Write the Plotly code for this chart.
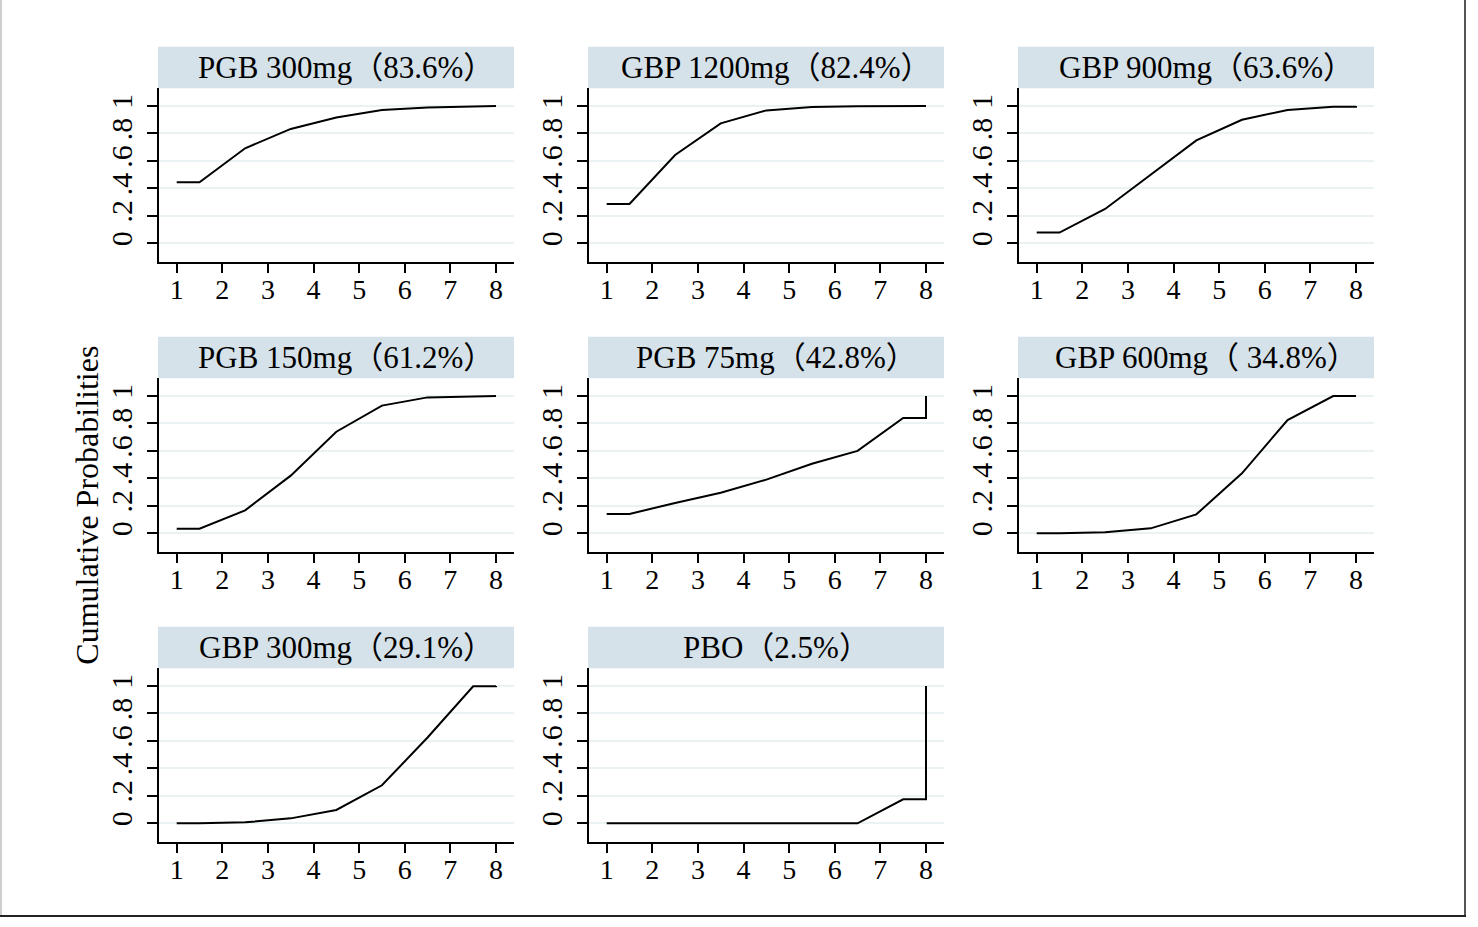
import plotly.graph_objects as go

# ---- data (cumulative ranking probabilities at ranks 1..8) ----
titles = [
    "PGB 300mg（83.6%）", "GBP 1200mg（82.4%）", "GBP 900mg（63.6%）",
    "PGB 150mg（61.2%）", "PGB 75mg（42.8%）", "GBP 600mg（ 34.8%）",
    "GBP 300mg（29.1%）", "PBO（2.5%）",
]
ranks = [1, 2, 3, 4, 5, 6, 7, 8]
cum_pgb300 = [0.444, 0.692, 0.833, 0.917, 0.971, 0.990, 0.998, 1.0]
cum_gbp1200 = [0.286, 0.643, 0.874, 0.968, 0.993, 0.998, 0.999, 1.0]
cum_gbp900 = [0.078, 0.250, 0.500, 0.750, 0.900, 0.971, 0.995, 1.0]
cum_pgb150 = [0.034, 0.167, 0.420, 0.740, 0.930, 0.990, 0.998, 1.0]
cum_pgb75 = [0.141, 0.221, 0.296, 0.391, 0.507, 0.600, 0.840, 1.0]
cum_gbp600 = [0.001, 0.007, 0.036, 0.138, 0.437, 0.825, 1.0, 1.0]
cum_gbp300 = [0.0, 0.007, 0.036, 0.097, 0.277, 0.625, 0.998, 1.0]
cum_pbo = [0.0, 0.0, 0.0, 0.0, 0.0, 0.0, 0.175, 1.0]
series = [cum_pgb300, cum_gbp1200, cum_gbp900, cum_pgb150,
          cum_pgb75, cum_gbp600, cum_gbp300, cum_pbo]
ytick_vals = [0, 0.2, 0.4, 0.6, 0.8, 1]
ytick_text = ["0", ".2", ".4", ".6", ".8", "1"]
ylab = "Cumulative Probabilities"

W, H = 1478, 927
FONT = "Liberation Serif, Times New Roman, Noto Sans CJK SC, serif"
col_left = [159, 589, 1019]
plot_w = 355
row_top = [88.3, 378.3, 668.3]
plot_h = 173.4
box_h = 41.6
STRIP = "#d6e2e9"
GRID = "#eaf2f3"

fig = go.Figure()
layout = dict(
    width=W, height=H, margin=dict(l=0, r=0, t=0, b=0),
    paper_bgcolor="white", plot_bgcolor="white", showlegend=False,
    font=dict(family=FONT, color="black"),
)
shapes = []
annotations = []

for i, (t, c) in enumerate(zip(titles, series)):
    r, col = divmod(i, 3)
    k = "" if i == 0 else str(i + 1)
    x0 = col_left[col]
    top = row_top[r]
    xd = [x0 / W, (x0 + plot_w) / W]
    yd = [1 - (top + plot_h) / H, 1 - top / H]
    # cumulative line: flat first half-step, midpoints, flat last half-step, final jump
    xs = [ranks[0]] + [v + 0.5 for v in ranks[:-1]] + [ranks[-1], ranks[-1]]
    ys = [c[0]] + c[:-1] + [c[-2], c[-1]]
    fig.add_trace(go.Scatter(x=xs, y=ys, mode="lines",
                             line=dict(color="black", width=2),
                             xaxis="x" + k, yaxis="y" + k, hoverinfo="skip"))
    layout["xaxis" + k] = dict(
        domain=xd, anchor="y" + k, range=[0.612, 8.395],
        tickvals=ranks, ticks="outside", ticklen=10, tickwidth=1.5,
        tickcolor="black", showline=True, linecolor="black", linewidth=1.5,
        showgrid=False, zeroline=False,
        tickfont=dict(family=FONT, size=28, color="black"),
        ticklabelstandoff=-8,
    )
    layout["yaxis" + k] = dict(
        domain=yd, anchor="x" + k, range=[-0.134, 1.129],
        tickvals=ytick_vals, ticktext=ytick_text, tickangle=-90,
        ticks="outside", ticklen=10, tickwidth=1.5, tickcolor="black",
        showline=True, linecolor="black", linewidth=1.5,
        showgrid=True, gridcolor=GRID, gridwidth=2, zeroline=False,
        tickfont=dict(family=FONT, size=30, color="black"),
        ticklabelstandoff=3,
    )
    # strip title box
    bx0 = (x0 - 1) / W
    bx1 = (x0 + plot_w) / W
    by0 = 1 - top / H
    by1 = 1 - (top - box_h) / H
    shapes.append(dict(type="rect", xref="paper", yref="paper",
                       x0=bx0, x1=bx1, y0=by0, y1=by1,
                       fillcolor=STRIP, line=dict(width=0), layer="below"))
    annotations.append(dict(text=t, xref="paper", yref="paper",
                            x=(bx0 + bx1) / 2, y=(by0 + by1) / 2, xshift=10,
                            xanchor="center", yanchor="middle", showarrow=False,
                            font=dict(family=FONT, size=31, color="black")))

annotations.append(dict(text=ylab, xref="paper", yref="paper",
                        x=86.7 / W, y=1 - 505 / H, textangle=-90,
                        xanchor="center", yanchor="middle", showarrow=False,
                        font=dict(family=FONT, size=32, color="black")))

# outer frame
shapes.append(dict(type="line", xref="paper", yref="paper",
                   x0=1 / W, x1=1 / W, y0=1 - 916 / H, y1=1,
                   line=dict(color="#cfcfcf", width=2)))
shapes.append(dict(type="line", xref="paper", yref="paper",
                   x0=1465 / W, x1=1465 / W, y0=1 - 916 / H, y1=1,
                   line=dict(color="#555555", width=2)))
shapes.append(dict(type="line", xref="paper", yref="paper",
                   x0=0, x1=1466 / W, y0=1 - 916 / H, y1=1 - 916 / H,
                   line=dict(color="#222222", width=2)))

layout["shapes"] = shapes
layout["annotations"] = annotations
fig.update_layout(**layout)
fig.write_html("out.html", config={"displayModeBar": False},
               post_script="document.body.style.margin='0';document.body.style.overflow='hidden';")
